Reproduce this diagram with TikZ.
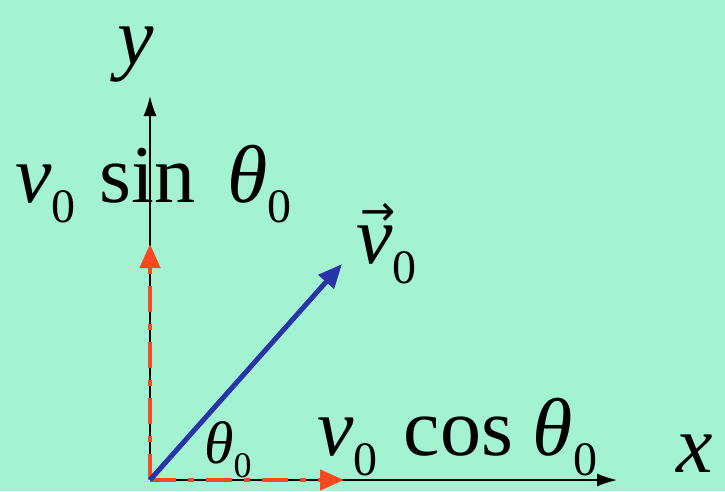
\documentclass[tikz,border=0pt]{standalone}
\usepackage{fontspec}
\setmainfont{Liberation Serif}
\newfontfamily\symfont{DejaVu Sans}
\usetikzlibrary{arrows.meta}

\definecolor{bgmint}{RGB}{163,242,210}
\definecolor{compred}{RGB}{250,72,32}
\definecolor{vecblue}{RGB}{42,52,168}

% lowered upright subscript zero: size, drop
\newcommand{\zsub}[2]{\raisebox{-#2}{\fontsize{#1}{#1}\selectfont 0}}
% italic v with a small arrow over it
\newcommand{\vecv}{\rlap{\hspace{4pt}\raisebox{38pt}{\symfont\fontsize{42}{42}\selectfont →}}\textit{v}}

\begin{document}
\begin{tikzpicture}[x=1pt, y=-1pt,
    axis/.style={draw=black, line width=1.6pt, -{Latex[length=20pt, width=13pt]}},
    comp/.style={draw=compred, line width=4.5pt, dash pattern=on 26pt off 12pt on 6pt off 12pt, -{Triangle[length=24pt, width=20pt]}},
    vel/.style={draw=vecblue, line width=5pt, -{Triangle[length=24pt, width=20pt]}},
    lbl/.style={font=\fontsize{82}{82}\selectfont, inner sep=0pt, anchor=base west},
    anglbl/.style={font=\fontsize{60}{60}\selectfont, inner sep=0pt, anchor=base west},
]

% background
\fill[bgmint] (0,0) rectangle (725,491);

% points
\coordinate (O) at (150,480);
\coordinate (xend) at (617,480);
\coordinate (yend) at (150,96);
\coordinate (vx) at (344,480);
\coordinate (vy) at (150,244);
\coordinate (v) at (342,264);

% axes
\draw[axis] (O) -- (xend);
\draw[axis] (O) -- (yend);

% components (dashed red)
\draw[comp] (O) -- (vx);
\draw[comp] (O) -- (vy);

% velocity
\draw[vel] (O) -- (v);

% labels
\node[lbl] (ylabel) at (117,64) {\textit{y}};
\node[lbl] (xlabel) at (676,472) {\textit{x}};
\node[lbl] (vsin) at (15,202) {\textit{v}\zsub{48}{20pt}\hspace{24pt}sin\hspace{32pt}\textit{θ}\zsub{48}{20pt}};
\node[lbl] (vcos) at (317,455) {\textit{v}\zsub{48}{20pt}\hspace{26pt}cos\hspace{20pt}\textit{θ}\zsub{48}{20pt}};
\node[lbl] (vlabel) at (356,263) {\vecv\zsub{48}{20pt}};
\node[anglbl] (theta) at (204,463) {\textit{θ}\zsub{36}{14pt}};

\end{tikzpicture}
\end{document}
